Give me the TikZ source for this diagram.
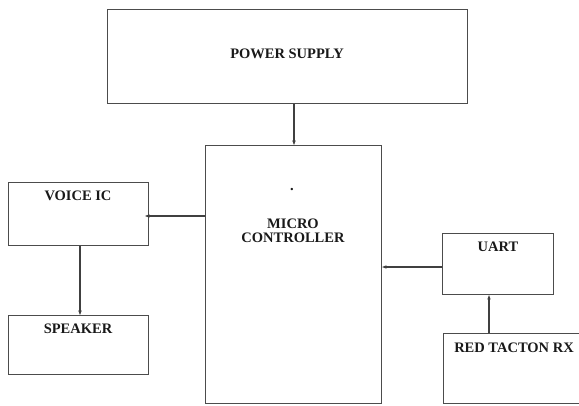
\documentclass[tikz,border=0pt]{standalone}
\usepackage{fontspec}
\setmainfont{Liberation Serif}
\usetikzlibrary{arrows.meta}
\begin{document}
\begin{tikzpicture}[x=1pt,y=-1pt,
  blk/.style={draw=black!70,line width=1.1pt,rectangle,inner sep=0pt,anchor=north west},
  lbl/.style={font=\fontsize{14.5}{16}\selectfont\bfseries,text=black!90,inner sep=0pt,align=center},
  conn/.style={draw=black!75,line width=1.1pt,-{Stealth[length=4.5pt,width=3.5pt]}}]
\useasboundingbox (0,0) rectangle (579,405);
\clip (0,0) rectangle (579,405);
% boxes
\node[blk,minimum width=360pt,minimum height=94pt] (ps) at (107,9) {};
\node[blk,minimum width=176pt,minimum height=258pt] (mc) at (205,145) {};
\node[blk,minimum width=140pt,minimum height=63pt] (vic) at (8,182) {};
\node[blk,minimum width=140pt,minimum height=59pt] (spk) at (8,315) {};
\node[blk,minimum width=111pt,minimum height=61pt] (uart) at (442,233) {};
\node[blk,minimum width=150pt,minimum height=70pt] (rtx) at (443,333) {};
% texts
\node[lbl] (tps) at (287,54) {POWER SUPPLY};
\node[lbl] (tdot) at (292,190) {.};
\node[lbl] (tmc) at (293,231) {MICRO\\[-2pt]CONTROLLER};
\node[lbl] (tvic) at (78,196) {VOICE IC};
\node[lbl] (tspk) at (78,329) {SPEAKER};
\node[lbl] (tuart) at (498,247) {UART};
\node[lbl] (trtx) at (514,348) {RED TACTON RX};
% connectors
\draw[conn] (ps.south -| 294,0) -- (mc.north -| 294,0);
\draw[conn] (mc.west |- 0,216) -- (145,216) coordinate (vicin);
\draw[conn] (vic.south -| 80,0) -- (spk.north -| 80,0);
\draw[conn] (uart.west |- 0,267) -- (mc.east |- 0,267);
\draw[conn] (rtx.north -| 489,0) -- (uart.south -| 489,0);
\end{tikzpicture}
\end{document}
